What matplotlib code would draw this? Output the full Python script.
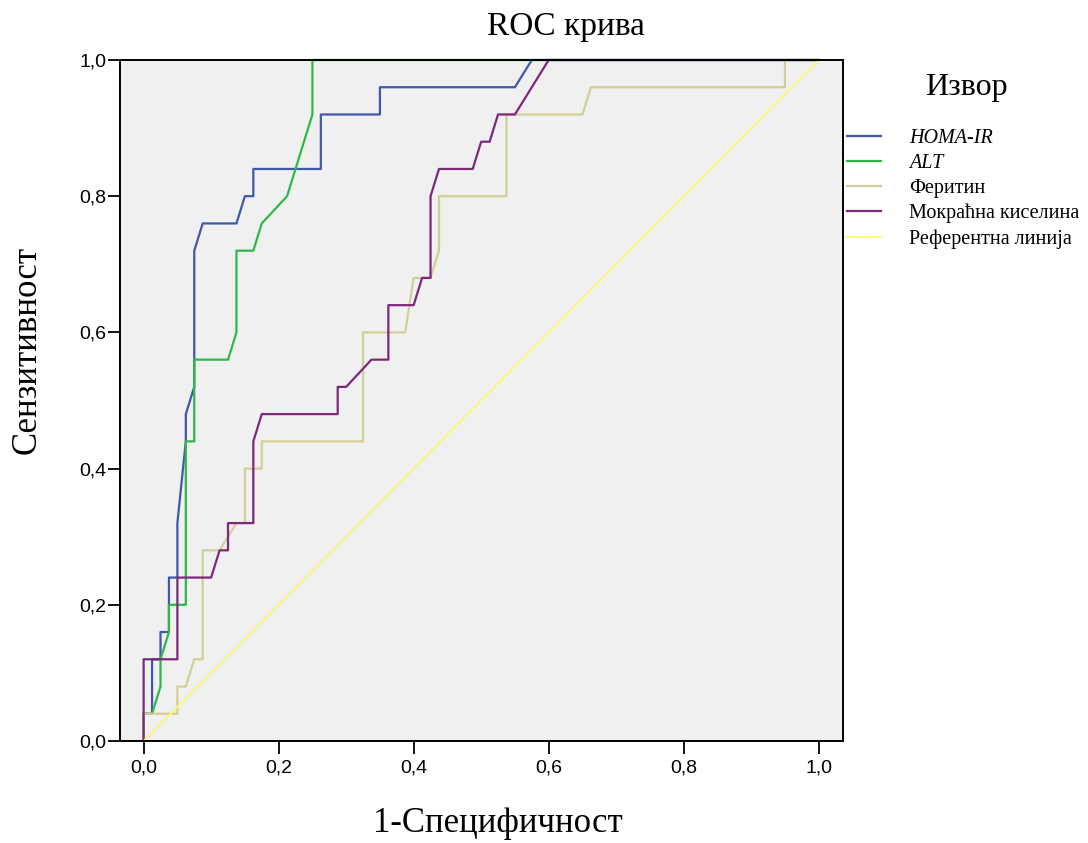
"""ROC curves for HOMA-IR, ALT, ferritin and uric acid (SPSS style)."""

import matplotlib
matplotlib.use('Agg')
import matplotlib.pyplot as plt

# ROC points (1 - specificity, sensitivity)
homa_fpr = [0, 0, 0.0125, 0.0125, 0.025, 0.025, 0.0375, 0.0375, 0.05, 0.05, 0.0625, 0.0625,
            0.075, 0.075, 0.0875, 0.1375, 0.15, 0.1625, 0.1625, 0.2625, 0.2625, 0.35, 0.35,
            0.55, 0.575, 1.0]
homa_tpr = [0, 0.04, 0.04, 0.12, 0.12, 0.16, 0.16, 0.24, 0.24, 0.32, 0.44, 0.48,
            0.52, 0.72, 0.76, 0.76, 0.80, 0.80, 0.84, 0.84, 0.92, 0.92, 0.96,
            0.96, 1.0, 1.0]

alt_fpr = [0, 0, 0.0125, 0.025, 0.025, 0.0375, 0.0375, 0.0625, 0.0625, 0.075, 0.075, 0.125,
           0.1375, 0.1375, 0.1625, 0.175, 0.2125, 0.25, 0.25, 1.0]
alt_tpr = [0, 0.04, 0.04, 0.08, 0.12, 0.16, 0.20, 0.20, 0.44, 0.44, 0.56, 0.56,
           0.60, 0.72, 0.72, 0.76, 0.80, 0.92, 1.0, 1.0]

ferr_fpr = [0, 0, 0.05, 0.05, 0.0625, 0.075, 0.0875, 0.0875, 0.1125, 0.1375, 0.15, 0.15,
            0.175, 0.175, 0.325, 0.325, 0.3875, 0.4, 0.425, 0.4375, 0.4375, 0.5375, 0.5375,
            0.65, 0.6625, 0.95, 0.95, 1.0]
ferr_tpr = [0, 0.04, 0.04, 0.08, 0.08, 0.12, 0.12, 0.28, 0.28, 0.32, 0.32, 0.40,
            0.40, 0.44, 0.44, 0.60, 0.60, 0.68, 0.68, 0.72, 0.80, 0.80, 0.92,
            0.92, 0.96, 0.96, 1.0, 1.0]

uric_fpr = [0, 0, 0.05, 0.05, 0.1, 0.1125, 0.125, 0.125, 0.1625, 0.1625, 0.175, 0.2875,
            0.2875, 0.3, 0.3375, 0.3625, 0.3625, 0.4, 0.4125, 0.425, 0.425, 0.4375, 0.4875,
            0.5, 0.5125, 0.525, 0.55, 0.6, 1.0]
uric_tpr = [0, 0.12, 0.12, 0.24, 0.24, 0.28, 0.28, 0.32, 0.32, 0.44, 0.48, 0.48,
            0.52, 0.52, 0.56, 0.56, 0.64, 0.64, 0.68, 0.68, 0.80, 0.84, 0.84,
            0.88, 0.88, 0.92, 0.92, 1.0, 1.0]

ref_x = [0, 1]
ref_y = [0, 1]

labels = ['HOMA-IR', 'ALT', 'Феритин', 'Мокраћна киселина', 'Референтна линија']
colors = ['#3E58AC', '#2EB848', '#D3CE97', '#7C287D', '#FBF873']

ticks = [0.0, 0.2, 0.4, 0.6, 0.8, 1.0]
tick_labels = ['0,0', '0,2', '0,4', '0,6', '0,8', '1,0']

serif = 'Liberation Serif'
sans = 'Liberation Sans'

W, H = 1088, 843
fig = plt.figure(figsize=(W / 100, H / 100), dpi=100)
ax = fig.add_axes([120 / W, 1 - 741 / H, (843 - 120) / W, (741 - 60) / H])
ax.set_facecolor('#F0F0F0')

series = [(homa_fpr, homa_tpr), (alt_fpr, alt_tpr), (ferr_fpr, ferr_tpr),
          (uric_fpr, uric_tpr), (ref_x, ref_y)]
handles = []
for (xs, ys), lab, col in zip(series, labels, colors):
    lw = 1.3 if col == '#FBF873' else 1.6
    h, = ax.plot(xs, ys, color=col, lw=lw, label=lab, clip_on=False)
    handles.append(h)

ax.set_xlim(-0.035, 1.036)
ax.set_ylim(0, 1)
ax.set_xticks(ticks)
ax.set_xticklabels(tick_labels, fontfamily=sans, fontsize=14)
ax.set_yticks(ticks)
ax.set_yticklabels(tick_labels, fontfamily=sans, fontsize=14)
ax.tick_params(direction='out', length=9, width=1.3, color='black')
ax.tick_params(axis='x', pad=4)
ax.tick_params(axis='y', pad=1)
for sp in ax.spines.values():
    sp.set_linewidth(1.4)
    sp.set_color('black')

fig.text(566 / W, 1 - 35 / H, 'ROC крива', ha='center', va='baseline',
         fontfamily=serif, fontsize=24)
fig.text(498 / W, 1 - 832 / H, '1-Специфичност', ha='center', va='baseline',
         fontfamily=serif, fontsize=25)
fig.text(27 / W, 1 - 350 / H, 'Сензитивност', ha='center', va='center',
         rotation=90, fontfamily=serif, fontsize=25)
fig.text(966 / W, 1 - 88 / H, 'Извор', ha='center', va='center',
         fontfamily=serif, fontsize=23)

leg = fig.legend(handles=handles, loc='upper left',
                 bbox_to_anchor=(847 / W, 1 - 129 / H), frameon=False,
                 prop={'family': serif, 'size': 14.5},
                 handlelength=1.69, handletextpad=1.39, labelspacing=0.29,
                 borderaxespad=0, borderpad=0)
for t in leg.get_texts()[:2]:
    t.set_fontstyle('italic')

fig.savefig('out.png', dpi=100)
